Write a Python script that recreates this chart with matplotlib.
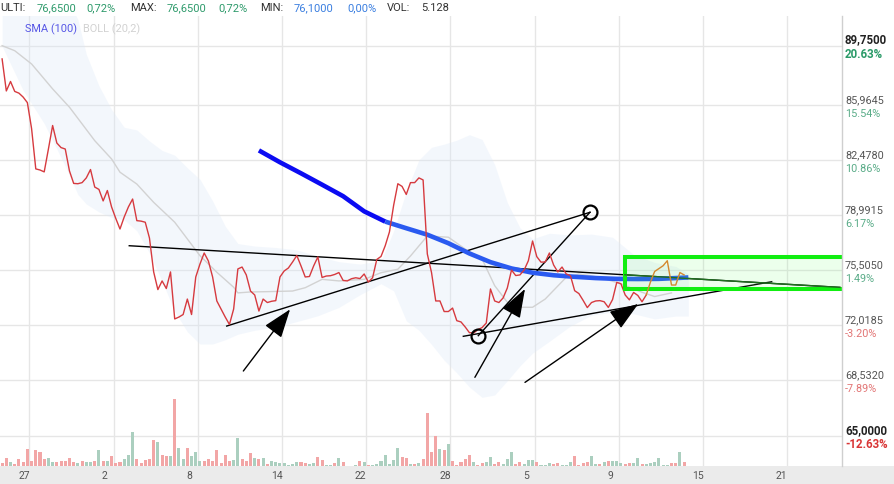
import matplotlib
matplotlib.use("Agg")
import matplotlib.pyplot as plt
import matplotlib.transforms as mtransforms
from matplotlib.patches import Rectangle

plt.rcParams['font.family'] = ['Roboto', 'DejaVu Sans']

# ---------------- data ----------------
price = [88.90, 86.87, 87.47, 86.84, 86.73, 86.48, 86.13, 84.49, 81.93, 81.86,
         81.74, 83.19, 84.68, 83.57, 83.28, 83.19, 81.80, 81.01, 80.99, 81.06,
         81.36, 81.89, 80.78, 80.63, 79.90, 80.56, 79.52, 78.79, 78.12, 78.88,
         79.52, 80.02, 78.65, 78.62, 78.55, 77.55, 75.40, 74.28, 74.83, 74.35,
         75.40, 72.42, 72.54, 72.70, 73.68, 72.70, 75.08, 75.90, 76.60, 76.09,
         75.08, 73.56, 73.05, 72.54, 72.07, 73.05, 75.59, 75.71, 75.21, 74.19,
         73.94, 72.92, 73.68, 73.46, 73.54, 73.58, 75.08, 75.46, 75.65, 76.03,
         76.44, 75.78, 75.08, 75.11, 75.78, 76.35, 75.05, 75.14, 75.16, 75.24,
         75.36, 74.86, 74.83, 74.97, 75.03, 74.98, 75.27, 74.76, 75.03, 76.19,
         76.38, 77.06, 77.93, 79.62, 80.99, 80.82, 80.31, 81.06, 81.06, 81.36,
         81.23, 76.54, 75.36, 73.56, 73.56, 72.89, 72.89, 73.11, 72.31, 72.23,
         71.91, 71.55, 71.53, 71.74, 71.87, 72.16, 74.32, 73.56, 73.46, 73.75,
         74.38, 75.52, 75.17, 75.21, 75.52, 76.11, 77.36, 76.37, 76.02, 76.03,
         76.60, 75.84, 75.40, 75.71, 75.27, 75.16, 74.21, 74.03, 73.60, 73.14,
         73.46, 73.56, 73.58, 73.51, 73.15, 73.65, 74.74, 74.65, 73.94, 73.63,
         74.10, 73.91, 73.51, 73.94, 74.76, 75.43, 75.61, 75.79, 76.11, 74.57,
         74.57, 75.36, 75.21]
last_session_start = 153  # orange part of the line

volume = [10, 25, 13, 7, 22, 13, 52, 16, 49, 43,
          22, 25, 13, 13, 16, 16, 25, 13, 10, 16,
          13, 13, 16, 49, 16, 16, 31, 10, 13, 22,
          34, 103, 22, 10, 19, 22, 79, 73, 34, 31,
          31, 202, 55, 22, 55, 31, 43, 16, 16, 22,
          16, 49, 10, 34, 16, 19, 85, 22, 16, 40,
          25, 22, 25, 7, 16, 13, 10, 10, 2, 7,
          13, 13, 10, 7, 10, 28, 19, 4, 4, 10,
          25, 13, 1, 1, 4, 16, 13, 4, 4, 7,
          16, 34, 7, 19, 55, 28, 25, 7, 7, 10,
          22, 160, 43, 91, 52, 49, 67, 16, 4, 13,
          22, 34, 13, 4, 10, 13, 28, 7, 13, 7,
          22, 43, 7, 13, 7, 19, 19, 13, 4, 4,
          10, 7, 10, 4, 4, 13, 31, 4, 10, 13,
          31, 7, 7, 13, 16, 16, 16, 10, 7, 10,
          10, 25, 7, 7, 10, 13, 25, 4, 4, 10,
          10, 43, 13]
vol_dir = ("rrgrrrrrrr" "rggrrrrrgr" "ggrgrgrrrg" "ggrrrrrgrr"
           "grggrgggrr" "rrrrrggrrr" "grgrgggggg" "grrggrrggr"
           "grgggrgrgg" "gggggrrgrg" "rrrrgrgrrr" "rrgrrggrrg"
           "ggrrgggrgg" "grrgggrrrr" "ggrgrgggrr" "ggrggggggr"
           "rgr")

sma_idx = [61, 66, 71, 76, 81, 86, 91, 96, 101, 106, 111, 116, 121, 126,
           131, 136, 141, 146, 151, 156, 163]
sma_val = [83.10, 82.35, 81.65, 80.93, 80.20, 79.24, 78.59, 78.17, 77.76,
           77.22, 76.57, 76.02, 75.62, 75.35, 75.19, 75.09, 75.01, 74.96,
           74.95, 74.96, 75.05]

boll_mid_idx = [0, 3, 7, 9, 12, 16, 19, 22, 26, 28, 32, 36, 41, 44, 47, 51,
                55, 56, 59, 63, 69, 72, 76, 80, 86, 90, 94, 97, 101, 106,
                110, 114, 117, 120, 123, 126, 129, 134, 137, 142, 147, 152,
                155, 159]
boll_mid = [89.74, 89.42, 88.58, 87.95, 87.00, 85.84, 84.78, 83.72, 82.56,
            81.72, 80.97, 79.81, 78.55, 77.49, 76.43, 75.38, 74.43, 74.07,
            74.13, 74.15, 74.19, 74.40, 74.93, 74.83, 74.93, 75.35, 75.57,
            76.41, 77.68, 77.60, 76.85, 76.22, 74.53, 73.48, 73.16, 73.16,
            73.68, 75.06, 75.27, 75.06, 74.64, 74.11, 73.84, 74.07]

band_idx = [0, 5, 10, 15, 18, 20, 23, 26, 29, 32, 35, 38, 41, 44, 47, 50,
            53, 56, 60, 65, 70, 75, 80, 85, 90, 93, 96, 99, 102, 105, 108,
            111, 114, 117, 120, 123, 126, 130, 135, 140, 145, 150, 155, 160,
            163]
band_upper = [93, 93, 93, 93, 91.4, 89.2, 87.2, 85.7, 84.57, 84.4, 83.7,
              83.1, 82.8, 82.0, 81.27, 79.9, 78.3, 77.2, 77.04, 76.95, 76.8,
              76.4, 76.05, 75.9, 76.1, 78.0, 80.5, 82.5, 83.3, 83.5, 83.75,
              84.1, 83.8, 82.2, 79.8, 78.2, 77.5, 77.85, 77.75, 77.8, 77.6,
              76.5, 76.0, 75.75, 75.3]
band_lower = [89.7, 86.9, 84.8, 82.1, 80.3, 79.7, 79.2, 78.85, 78.7, 78.0,
              76.6, 74.8, 72.9, 71.6, 70.83, 70.83, 71.1, 71.45, 71.7, 71.9,
              72.25, 72.62, 73.15, 73.95, 74.65, 74.2, 72.3, 71.7, 70.8, 69.8,
              69.0, 68.1, 67.45, 67.6, 68.5, 69.44, 70.25, 71.0, 71.97, 72.65,
              72.86, 72.75, 72.42, 72.6, 72.6]

# price axis levels and labels
y_levels = [89.75, 85.9645, 82.478, 78.9915, 75.505, 72.0185, 68.532, 65.0]
y_labels = ["89,7500", "85,9645", "82,4780", "78,9915", "75,5050",
            "72,0185", "68,5320", "65,0000"]
pct_labels = ["20.63%", "15.54%", "10.86%", "6.17%", "1.49%", "-3.20%",
              "-7.89%", "-12.63%"]
x_grid = [6.5, 26.5, 46.5, 66.5, 86.5, 106.5, 126.5, 146.5, 166.5, 186.5]
x_labels = ["27", "2", "8", "14", "22", "28", "5", "9", "15", "21"]

# drawings (bar index, price)
trend_lines = [((30.2, 77.06), (199.0, 74.42)),
               ((53.35, 71.97), (139.64, 79.18)),
               ((109.55, 71.32), (182.8, 74.78)),
               ((113.11, 71.36), (139.64, 79.18))]
circles = [(113.11, 71.36), (139.64, 79.18)]
arrows = [((57.3, 69.12), (68.4, 73.03)),
          ((112.3, 68.72), (124.2, 74.32)),
          ((124.2, 68.40), (151.1, 73.37))]
box = (147.9, 74.34, 201.0, 76.33)  # x0, y0, x1, y1

header = [("ULTI:", "#333333"), ("76,6500", "#2e9a6b"), ("0,72%", "#2e9a6b"),
          ("MAX:", "#333333"), ("76,6500", "#2e9a6b"), ("0,72%", "#2e9a6b"),
          ("MIN:", "#333333"), ("76,1000", "#3a7ee0"), ("0,00%", "#3a7ee0"),
          ("VOL:", "#333333"), ("5.128", "#333333")]
header_x = [0, 37, 86, 130, 167, 218, 260, 294, 347, 387, 421]

# ---------------- figure ----------------
W, H = 894, 485
fig = plt.figure(figsize=(W / 100, H / 100), dpi=100)
fig.patch.set_facecolor("white")

ax_l, ax_r, ax_b, ax_t = 0, 842, 467, 17  # pixel box of the plot
pos = [ax_l / W, (H - ax_b) / H, (ax_r - ax_l) / W, (ax_b - ax_t) / H]
ax = fig.add_axes(pos)
ax.set_zorder(1)
axv = fig.add_axes(pos, sharex=ax)
axv.set_zorder(2)
axv.patch.set_visible(False)

ax.set_xlim(-0.5, 199.5)
ax.set_ylim(63.10, 91.62)
for a in (ax, axv):
    for s in a.spines.values():
        s.set_visible(False)
    a.tick_params(left=False, bottom=False, labelleft=False, labelbottom=False)

# bottom band for x labels
fig.patches.append(Rectangle((0, 0), 1, (H - ax_b) / H, transform=fig.transFigure,
                             facecolor="#ebebeb", edgecolor="none", zorder=0))

# grid
for lv in y_levels:
    ax.axhline(lv, color="#e6e6e6", lw=1.0, zorder=0.5)
for gx in x_grid:
    ax.axvline(gx, color="#e6e6e6", lw=1.0, zorder=0.5)

# bollinger band
ax.fill_between(band_idx, band_lower, band_upper, color="#dce8f8", alpha=0.32,
                lw=0, zorder=1)
ax.plot(boll_mid_idx, boll_mid, color="#d2d2d2", lw=1.0, zorder=2)

# trend lines
for (p0, p1) in trend_lines:
    ax.plot([p0[0], p1[0]], [p0[1], p1[1]], color="black", lw=1.0, zorder=3)

# SMA 100
split = sma_idx.index(91)
ax.plot(sma_idx[:split + 1], sma_val[:split + 1], color="#0b0bf2", lw=3.3,
        solid_capstyle="butt", solid_joinstyle="round", zorder=4)
ax.plot(sma_idx[split:], sma_val[split:], color="#2a5af0", lw=3.3,
        solid_capstyle="butt", solid_joinstyle="round", zorder=4)

# price line
xs = list(range(len(price)))
ax.plot(xs[:last_session_start + 1], price[:last_session_start + 1],
        color="#d63a3f", lw=1.0, zorder=5)

# green box
x0, y0, x1, y1 = box
ax.add_patch(Rectangle((x0, y0), x1 - x0, y1 - y0, facecolor=(0.3, 1.0, 0.3, 0.1),
                       edgecolor="#11ee11", lw=2.9, zorder=6))
# first trend line seen through the box
(ta, tb) = trend_lines[0]
slope = (tb[1] - ta[1]) / (tb[0] - ta[0])
ax.plot([x0, tb[0]], [ta[1] + slope * (x0 - ta[0]), tb[1]], color="#1f6e1f",
        lw=1.0, zorder=6.5)

ax.plot(xs[last_session_start:], price[last_session_start:], color="#d4882e",
        lw=1.0, zorder=7)

# circles & arrows
for cx, cy in circles:
    ax.plot([cx], [cy], "o", ms=10, mfc="none", mec="black", mew=1.6, zorder=8)
for tail, tip in arrows:
    ax.annotate("", xy=tip, xytext=tail, zorder=8,
                arrowprops=dict(arrowstyle="-|>,head_length=0.45,head_width=0.16",
                                mutation_scale=40, color="black", lw=1.0,
                                shrinkA=0, shrinkB=0))

# volume
vcol = {"r": "#f2a6a6", "g": "#abcfbf"}
axv.bar(xs, volume, width=0.72, color=[vcol[c] for c in vol_dir], zorder=2)
axv.set_ylim(0, 3 * (ax_b - ax_t))

# right axis line
fig.add_artist(plt.Line2D([ax_r / W, ax_r / W], [(H - ax_b) / H, (H - ax_t) / H],
                          transform=fig.transFigure, color="#cfcfcf", lw=1.0))

# right labels
trans = ax.get_yaxis_transform()
tx = 845 / 842
for i, (lv, lab, pct) in enumerate(zip(y_levels, y_labels, pct_labels)):
    bold = i in (0, len(y_levels) - 1)
    up = mtransforms.offset_copy(trans, fig=fig, x=0, y=6.5, units="dots")
    dn = mtransforms.offset_copy(trans, fig=fig, x=0, y=-7.5, units="dots")
    ax.text(tx, lv, lab, transform=up, ha="left", va="center",
            fontsize=8.3 if bold else 7.8,
            color="#222222" if bold else "#555555",
            fontweight="bold" if bold else "normal", clip_on=False)
    neg = pct.startswith("-")
    if bold:
        pc = "#d93636" if neg else "#2a9a68"
    else:
        pc = "#e27575" if neg else "#5aac88"
    ax.text(tx, lv, pct, transform=dn, ha="left", va="center",
            fontsize=8.3 if bold else 7.8,
            color=pc, fontweight="bold" if bold else "normal", clip_on=False)

# x labels
xt = ax.get_xaxis_transform()
for gx, lab in zip(x_grid, x_labels):
    off = 1.3 + (0.8 if len(lab) == 1 else 0.0)
    ax.text(gx - off, -(476 - ax_b) / (ax_b - ax_t), lab, transform=xt,
            ha="center", va="center", fontsize=7.5, color="#555555", clip_on=False)

# header
for (txt, col), hx in zip(header, header_x):
    fig.text(hx / W, 1 - 8 / H, txt, ha="left", va="center", fontsize=8.0, color=col)

# legend
fig.text(25 / W, 1 - 29.5 / H, "SMA (100)", ha="left", va="center", fontsize=7.9,
         color="#5656e6")
fig.text(83 / W, 1 - 29.5 / H, "BOLL (20,2)", ha="left", va="center", fontsize=7.9,
         color="#d2d2d2")

fig.savefig("out.png", dpi=100, facecolor="white")
